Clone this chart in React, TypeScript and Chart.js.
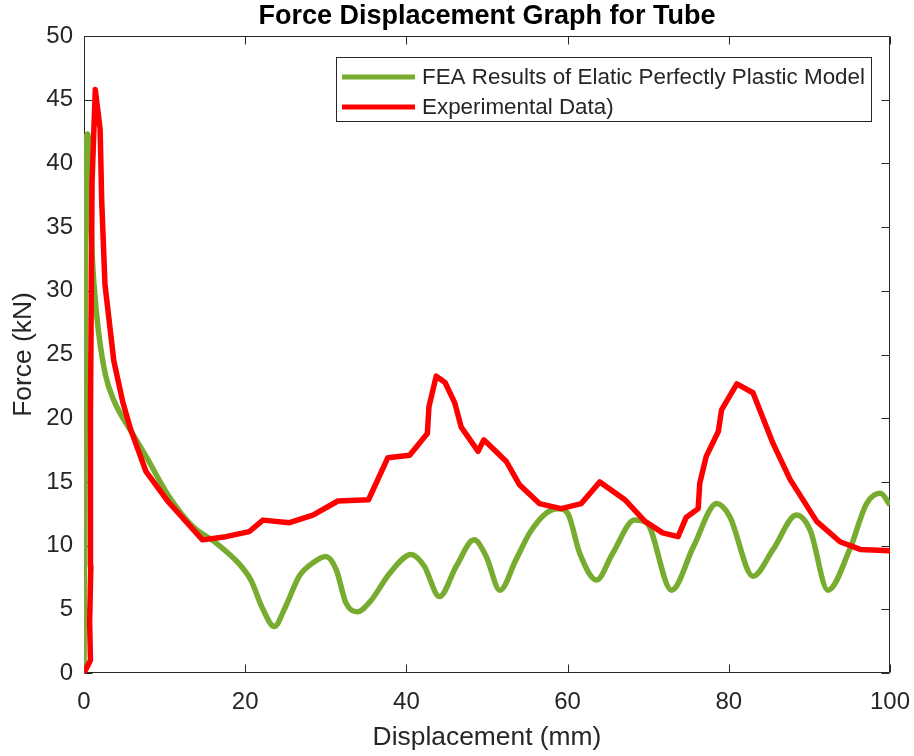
import React, { useEffect, useRef } from "react";
import { Chart, registerables } from "chart.js";

Chart.register(...registerables);

const TITLE = "Force Displacement Graph for Tube";
const X_LABEL = "Displacement (mm)";
const Y_LABEL = "Force (kN)";
const FEA_LABEL = "FEA Results of Elatic Perfectly Plastic Model";
const EXP_LABEL = "Experimental Data)";

const FEA_COLOR = "#77AC30";
const EXP_COLOR = "#FF0000";
const AXIS_COLOR = "#262626";
const FONT = "'Liberation Sans', Arial, Helvetica, sans-serif";

// FEA results (smooth curve)
const feaX = [
  0, 0.15, 0.25, 0.4, 0.6, 0.8, 1.0, 1.3, 1.8, 2.7, 3.7, 6.0, 7.7, 10.5, 13.5,
  16.4, 19.2, 20.7, 22.2, 23.6, 25.0, 26.7, 28.5, 30.0, 31.3, 32.5, 33.9, 35.5,
  37.9, 40.6, 42.2, 44.1, 46.2, 48.4, 49.9, 51.6, 53.6, 55.3, 57.35, 58.8, 60.0,
  61.5, 63.6, 65.6, 68.3, 69.8, 72.9, 75.6, 78.5, 80.1, 83.0, 85.5, 88.4, 90.1,
  92.3, 95.0, 97.1, 98.8, 100,
];
const feaY = [
  0, 20, 40, 42.3, 41.5, 37, 33, 30, 26.8, 23.3, 21.4, 18.8, 17.0, 13.9, 11.5,
  10.2, 8.6, 7.3, 5.0, 3.65, 5.2, 7.6, 8.7, 9.15, 8.1, 5.5, 4.8, 5.6,
  7.8, 9.3, 8.4, 6.0, 8.4, 10.45, 9.15, 6.5, 8.9, 11.0, 12.55, 12.9, 12.55,
  9.4, 7.3, 9.4, 12.0, 11.8, 6.5, 9.9, 13.3, 12.3, 7.6, 9.7, 12.4, 11.2,
  6.5, 9.7, 13.3, 14.1, 13.2,
];

// Experimental data (piecewise linear)
const expX = [
  0, 0.8, 0.7, 0.85, 0.8, 1.0, 1.4, 2.0, 2.2, 2.6, 3.7, 4.8, 5.8, 7.7, 10.5,
  14.7, 17.6, 20.5, 22.2, 25.5, 28.4, 31.5, 35.3, 37.7, 40.4, 42.6, 42.8, 43.7,
  44.8, 46.0, 46.8, 48.9, 49.6, 52.4, 54.0, 56.5, 59.2, 61.7, 64.0, 67.1, 69.6,
  71.8, 73.7, 74.7, 76.2, 76.4, 77.2, 78.7, 79.1, 81.0, 83.0, 85.5, 87.6, 90.9,
  93.8, 96.3, 100,
];
const expY = [
  0, 1.0, 4.0, 8.4, 20, 38.5, 45.8, 42.7, 37, 30.5, 24.5, 21.3, 19.1, 15.8, 13.4,
  10.45, 10.7, 11.1, 12.0, 11.8, 12.4, 13.5, 13.6, 16.9, 17.1, 18.8, 20.9, 23.3,
  22.8, 21.2, 19.3, 17.4, 18.3, 16.6, 14.8, 13.3, 12.9, 13.3, 15.0, 13.6, 11.9,
  11.0, 10.7, 12.2, 12.9, 14.9, 17.0, 18.95, 20.65, 22.7, 22.0, 18.0, 15.2, 11.9,
  10.3, 9.7, 9.6,
];

const xTicks = [0, 20, 40, 60, 80, 100];
const yTicks = [0, 5, 10, 15, 20, 25, 30, 35, 40, 45, 50];

const framePlugin = {
  id: "frameAndLegend",
  beforeDatasetsDraw(chart: any) {
    const { ctx, chartArea: a, scales } = chart;
    const xs = scales.x;
    const ys = scales.y;
    const L = Math.round(a.left) + 0.5;
    const R = Math.round(a.right) - 0.5;
    const T = Math.round(a.top) + 0.5;
    const B = Math.round(a.bottom) - 0.5;
    const tl = 8;
    ctx.save();
    ctx.strokeStyle = AXIS_COLOR;
    ctx.lineWidth = 1;
    ctx.beginPath();
    ctx.rect(L, T, R - L, B - T);
    for (const v of xTicks) {
      const px = Math.round(xs.getPixelForValue(v)) + 0.5;
      ctx.moveTo(px, B);
      ctx.lineTo(px, B - tl);
      ctx.moveTo(px, T);
      ctx.lineTo(px, T + tl);
    }
    for (const v of yTicks) {
      const py = Math.round(ys.getPixelForValue(v)) + 0.5;
      ctx.moveTo(L, py);
      ctx.lineTo(L + tl, py);
      ctx.moveTo(R, py);
      ctx.lineTo(R - tl, py);
    }
    ctx.stroke();
    ctx.restore();
  },
  afterDraw(chart: any) {
    const { ctx, chartArea: a } = chart;
    const right = a.right - 19;
    const top = a.top + 21;
    const w = 535;
    const h = 64;
    const left = right - w;
    ctx.save();
    ctx.fillStyle = "#ffffff";
    ctx.fillRect(left, top, w, h);
    ctx.strokeStyle = AXIS_COLOR;
    ctx.lineWidth = 1;
    ctx.strokeRect(Math.round(left) + 0.5, Math.round(top) + 0.5, w, h);
    ctx.font = `22.4px ${FONT}`;
    ctx.textBaseline = "middle";
    ctx.textAlign = "left";
    const ds = chart.data.datasets;
    ds.forEach((d: any, i: number) => {
      const cy = top + 20 + i * 30;
      ctx.strokeStyle = d.borderColor;
      ctx.lineWidth = 5;
      ctx.beginPath();
      ctx.moveTo(left + 6, cy);
      ctx.lineTo(left + 79, cy);
      ctx.stroke();
      ctx.fillStyle = AXIS_COLOR;
      ctx.fillText(d.label, left + 86, cy + 1);
    });
    ctx.restore();
  },
};

export default function App() {
  const ref = useRef<HTMLCanvasElement | null>(null);

  useEffect(() => {
    if (!ref.current) return;
    Chart.defaults.font.family = FONT;
    Chart.defaults.color = AXIS_COLOR;
    const chart = new Chart(ref.current, {
      type: "line",
      data: {
        datasets: [
          {
            label: FEA_LABEL,
            data: feaX.map((x, i) => ({ x, y: feaY[i] })),
            borderColor: FEA_COLOR,
            backgroundColor: FEA_COLOR,
            borderWidth: 5.5,
            pointRadius: 0,
            cubicInterpolationMode: "monotone",
            order: 1,
          },
          {
            label: EXP_LABEL,
            data: expX.map((x, i) => ({ x, y: expY[i] })),
            borderColor: EXP_COLOR,
            backgroundColor: EXP_COLOR,
            borderWidth: 5.5,
            pointRadius: 0,
            tension: 0,
            borderJoinStyle: "round",
            borderCapStyle: "round",
            order: 0,
          },
        ],
      },
      options: {
        responsive: false,
        animation: false,
        layout: { padding: { left: 0, right: 24, top: 0, bottom: 0 } },
        plugins: {
          legend: { display: false },
          tooltip: { enabled: false },
          title: {
            display: true,
            text: TITLE,
            fullSize: false,
            color: "#000000",
            font: { size: 27, weight: "bold", family: FONT },
            padding: { top: 0.6, bottom: 3 },
          },
        },
        scales: {
          x: {
            type: "linear",
            min: 0,
            max: 100,
            afterFit: (s: any) => {
              s.height = 83;
              s.paddingLeft = 0;
              s.paddingRight = 0;
            },
            afterBuildTicks: (s: any) => {
              s.ticks = xTicks.map((v) => ({ value: v }));
            },
            grid: { display: false, drawTicks: false },
            border: { display: false },
            ticks: {
              padding: 15,
              maxRotation: 0,
              color: AXIS_COLOR,
              font: { size: 24, family: FONT },
            },
            title: {
              display: true,
              text: X_LABEL,
              color: AXIS_COLOR,
              font: { size: 26.4, family: FONT },
              padding: { top: 0, bottom: 2 },
            },
          },
          y: {
            type: "linear",
            min: 0,
            max: 50,
            afterFit: (s: any) => {
              s.width = 84;
              s.paddingTop = 0;
              s.paddingBottom = 0;
            },
            afterBuildTicks: (s: any) => {
              s.ticks = yTicks.map((v) => ({ value: v }));
            },
            grid: { display: false, drawTicks: false },
            border: { display: false },
            ticks: {
              padding: 11,
              color: AXIS_COLOR,
              font: { size: 24, family: FONT },
            },
            title: {
              display: true,
              text: Y_LABEL,
              color: AXIS_COLOR,
              font: { size: 26.4, family: FONT },
              padding: { top: 8, bottom: 0 },
            },
          },
        },
      },
      plugins: [framePlugin],
    } as any);
    return () => chart.destroy();
  }, []);

  return (
    <div
      style={{
        position: "fixed",
        left: 0,
        top: 0,
        width: 914,
        height: 756,
        background: "#ffffff",
      }}
    >
      <canvas ref={ref} width={914} height={756} style={{ display: "block" }} />
    </div>
  );
}
